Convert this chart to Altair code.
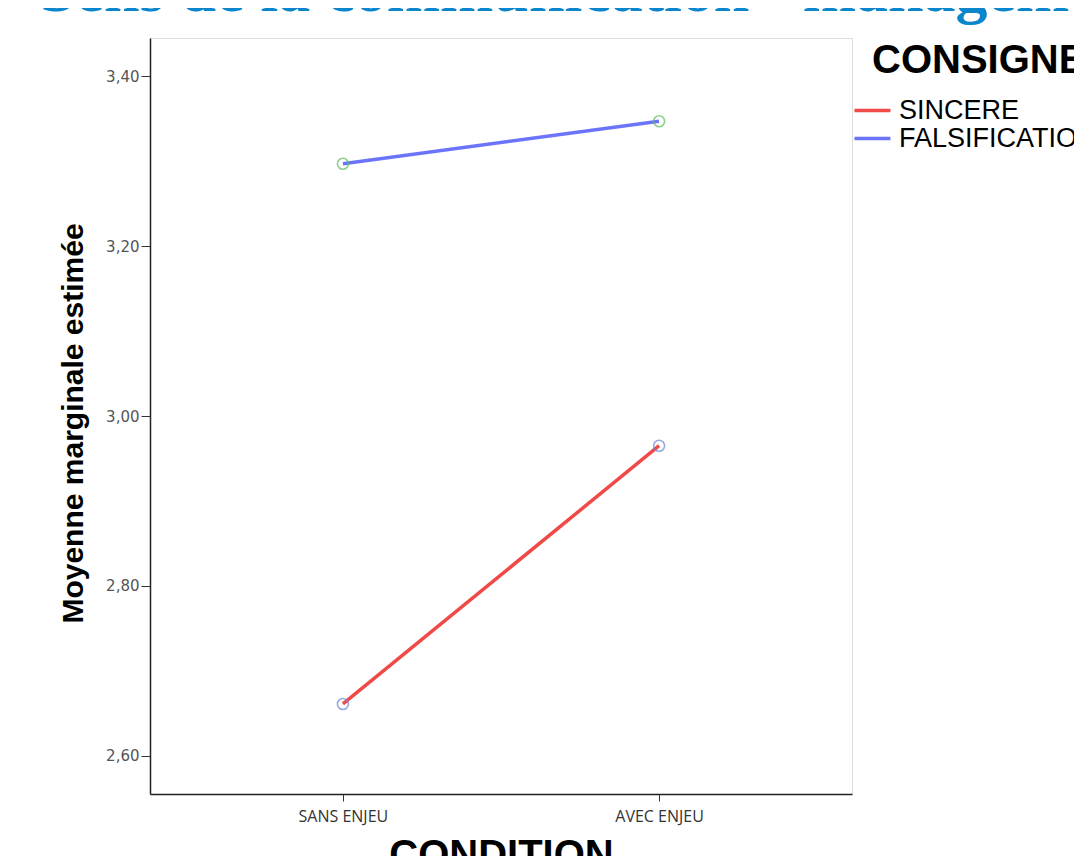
import altair as alt
import pandas as pd

title_text = ["Sens de la communication - management"]
conditions = ["SANS ENJEU", "AVEC ENJEU"]
consignes = ["SINCERE", "FALSIFICATION"]
sincere = [2.661, 2.965]
falsification = [3.297, 3.347]
y_ticks = [2.6, 2.8, 3.0, 3.2, 3.4]

rows = []
for c, v in zip(conditions, sincere):
    rows.append({"CONDITION": c, "CONSIGNE": "SINCERE", "val": v})
for c, v in zip(conditions, falsification):
    rows.append({"CONDITION": c, "CONSIGNE": "FALSIFICATION", "val": v})
df = pd.DataFrame(rows)

line_colors = ["#ef4a48", "#6b74fb"]
point_colors = ["#6a86d6", "#5cbd62"]

x_enc = alt.X(
    "CONDITION:N",
    sort=conditions,
    scale=alt.Scale(type="point", padding=0.61),
    axis=alt.Axis(
        title="CONDITION",
        titleFont="Liberation Sans",
        titleFontSize=40,
        titleFontWeight="bold",
        titleColor="#000000",
        titleY=73,
        titleBaseline="alphabetic",
        labelFont="Open Sans",
        labelFontSize=16,
        labelColor="#333333",
        labelAngle=0,
        labelPadding=7,
        tickSize=7,
        tickColor="#333333",
        domainColor="#222222",
        domainWidth=1.5,
        grid=False,
    ),
)
y_enc = alt.Y(
    "val:Q",
    scale=alt.Scale(domain=[2.555, 3.445], nice=False, zero=False),
    axis=alt.Axis(
        title="Moyenne marginale estimée",
        titleFont="Liberation Sans",
        titleFontSize=30,
        titleFontWeight="bold",
        titleColor="#000000",
        titleAngle=270,
        titleX=-68,
        titleY=385,
        titleAlign="center",
        titleBaseline="alphabetic",
        values=y_ticks,
        labelExpr="replace(format(datum.value, '.2f'), '.', ',')",
        labelFont="DejaVu Sans",
        labelFontSize=15,
        labelColor="#555555",
        labelPadding=2,
        tickSize=9,
        tickColor="#333333",
        domainColor="#222222",
        domainWidth=1.5,
        grid=False,
    ),
)

lines = alt.Chart(df).mark_line(strokeWidth=3.5).encode(
    x=x_enc,
    y=y_enc,
    color=alt.Color(
        "CONSIGNE:N",
        sort=consignes,
        scale=alt.Scale(domain=consignes, range=line_colors),
        legend=alt.Legend(
            title="CONSIGNE",
            orient="none",
            legendX=722,
            legendY=3,
            padding=0,
            titleFont="Liberation Sans",
            titleFontSize=40,
            titleFontWeight="bold",
            titleColor="#000000",
            titlePadding=16,
            titleLimit=1000,
            labelFont="Liberation Sans",
            labelFontSize=27,
            labelColor="#000000",
            labelLimit=1000,
            labelOffset=0,
            symbolType="M-3.45,0H0.55",
            symbolSize=324,
            symbolStrokeWidth=3.5,
            rowPadding=0,
        ),
    ),
)

points = alt.Chart(df).mark_point(filled=False, size=120, strokeWidth=1.6).encode(
    x=alt.X("CONDITION:N", sort=conditions),
    y="val:Q",
    stroke=alt.Stroke(
        "CONSIGNE:N",
        scale=alt.Scale(domain=consignes, range=point_colors),
        legend=None,
    ),
)

title_layer = alt.Chart(pd.DataFrame({"t": title_text})).mark_text(
    align="left",
    baseline="alphabetic",
    font="Liberation Serif",
    fontSize=64,
    fontWeight="bold",
    color="#0b85cc",
).encode(
    text="t:N",
    x=alt.value(-110),
    y=alt.value(-27),
)

chart = (
    alt.layer(lines, points, title_layer)
    .properties(
        width=702,
        height=756,
        autosize=alt.AutoSizeParams(type="none"),
        padding={"left": 142, "top": 30, "right": 222, "bottom": 62},
    )
    .configure_view(stroke="#8a8a8a", strokeWidth=2)
    .configure(background="white")
)

chart.save("out.html", embed_options={"renderer": "svg", "actions": False})
